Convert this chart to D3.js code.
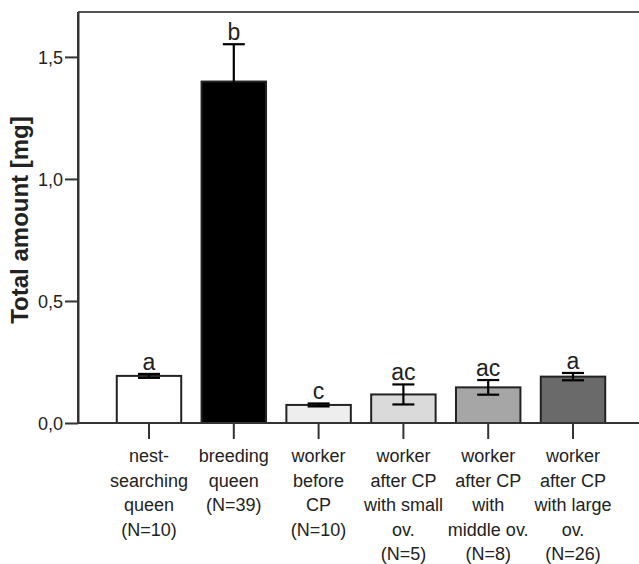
<!DOCTYPE html>
<html>
  <head>
    <meta charset="utf-8">
    <script src="https://cdn.jsdelivr.net/npm/d3@7"></script>
    <style type="text/css">
      body { margin: 0; background: #fff; }
      text { font-family: "Liberation Sans", Arial, sans-serif; fill: #222; }
      .axis path, .axis line { stroke: #333; stroke-width: 2; fill: none; }
    </style>
  </head>
  <body>
    <div class="plot_canvas"></div>
    <script>
      // data
      var groups = ["nest-searching queen", "breeding queen", "worker before CP",
                    "worker after CP small", "worker after CP middle", "worker after CP large"];
      var labelLines = [
        ["nest-", "searching", "queen", "(N=10)"],
        ["breeding", "queen", "(N=39)"],
        ["worker", "before", "CP", "(N=10)"],
        ["worker", "after CP", "with small", "ov.", "(N=5)"],
        ["worker", "after CP", "with", "middle ov.", "(N=8)"],
        ["worker", "after CP", "with large", "ov.", "(N=26)"]
      ];
      var means = [0.193, 1.399, 0.074, 0.117, 0.146, 0.190];
      var errs = [0.008, 0.153, 0.006, 0.041, 0.030, 0.015];
      var letters = ["a", "b", "c", "ac", "ac", "a"];
      var fills = ["#ffffff", "#000000", "#eeeeee", "#dadada", "#a6a6a6", "#6a6a6a"];
      var yTicks = [0, 0.5, 1.0, 1.5];

      var width = 639, height = 564;
      var margin = {top: 12, left: 78, bottom: 423};

      var svg = d3.select(".plot_canvas").append("svg")
        .attr("width", width).attr("height", height);

      var xScale = d3.scaleBand()
        .domain(groups)
        .range([106.6, 615.4])
        .paddingInner(0.24)
        .paddingOuter(0.12);

      var yScale = d3.scaleLinear()
        .domain([0, 1.684])
        .range([margin.bottom, margin.top]);

      // frame lines
      svg.append("line")
        .attr("x1", margin.left).attr("x2", width)
        .attr("y1", margin.top).attr("y2", margin.top)
        .attr("stroke", "#555").attr("stroke-width", 2);

      // y axis
      var yAxis = d3.axisLeft(yScale)
        .tickValues(yTicks)
        .tickSize(13)
        .tickPadding(2)
        .tickSizeOuter(0)
        .tickFormat(function(d) { return d3.format(".1f")(d).replace(".", ","); });

      var gy = svg.append("g")
        .attr("class", "axis")
        .attr("transform", "translate(" + margin.left + ",0)")
        .call(yAxis);
      gy.selectAll("text")
        .style("font-size", "18px")
        .attr("dy", "0.36em")
        .attr("fill", "#333");

      // bars
      svg.selectAll("rect.bar")
        .data(groups).enter()
        .append("rect")
        .attr("class", "bar")
        .attr("x", function(d) { return xScale(d); })
        .attr("width", xScale.bandwidth())
        .attr("y", function(d, i) { return yScale(means[i]); })
        .attr("height", function(d, i) { return yScale(0) - yScale(means[i]); })
        .attr("fill", function(d, i) { return fills[i]; })
        .attr("stroke", "#222")
        .attr("stroke-width", 2);

      // error bars
      var capW = 22;
      var eb = svg.selectAll("g.err")
        .data(groups).enter()
        .append("g").attr("class", "err")
        .attr("stroke", "#000").attr("stroke-width", 2.2);
      eb.append("line")
        .attr("x1", function(d) { return xScale(d) + xScale.bandwidth() / 2; })
        .attr("x2", function(d) { return xScale(d) + xScale.bandwidth() / 2; })
        .attr("y1", function(d, i) { return yScale(means[i] - errs[i]); })
        .attr("y2", function(d, i) { return yScale(means[i] + errs[i]); });
      eb.append("line")
        .attr("x1", function(d) { return xScale(d) + xScale.bandwidth() / 2 - capW / 2; })
        .attr("x2", function(d) { return xScale(d) + xScale.bandwidth() / 2 + capW / 2; })
        .attr("y1", function(d, i) { return yScale(means[i] + errs[i]); })
        .attr("y2", function(d, i) { return yScale(means[i] + errs[i]); });
      eb.append("line")
        .attr("x1", function(d) { return xScale(d) + xScale.bandwidth() / 2 - capW / 2; })
        .attr("x2", function(d) { return xScale(d) + xScale.bandwidth() / 2 + capW / 2; })
        .attr("y1", function(d, i) { return yScale(means[i] - errs[i]); })
        .attr("y2", function(d, i) { return yScale(means[i] - errs[i]); });

      // significance letters
      svg.selectAll("text.sig")
        .data(groups).enter()
        .append("text")
        .attr("class", "sig")
        .attr("x", function(d) { return xScale(d) + xScale.bandwidth() / 2; })
        .attr("y", function(d, i) { return yScale(means[i] + errs[i]) - 4; })
        .attr("text-anchor", "middle")
        .style("font-size", "23px")
        .text(function(d, i) { return letters[i]; });

      // x axis
      var xAxis = d3.axisBottom(xScale)
        .tickSize(16)
        .tickSizeOuter(0)
        .tickFormat("");
      var gx = svg.append("g")
        .attr("class", "axis")
        .attr("transform", "translate(0," + margin.bottom + ")")
        .call(xAxis);
      gx.select(".domain").remove();
      svg.append("line")
        .attr("x1", margin.left).attr("x2", width)
        .attr("y1", margin.bottom).attr("y2", margin.bottom)
        .attr("stroke", "#333").attr("stroke-width", 2);
      svg.append("line")
        .attr("x1", margin.left).attr("x2", margin.left)
        .attr("y1", margin.top).attr("y2", margin.bottom)
        .attr("stroke", "#333").attr("stroke-width", 2);

      // category labels
      var lab = svg.selectAll("text.xlab")
        .data(groups).enter()
        .append("text")
        .attr("class", "xlab")
        .attr("text-anchor", "middle")
        .style("font-size", "18px")
        .attr("fill", "#333");
      lab.each(function(d, i) {
        var t = d3.select(this);
        labelLines[i].forEach(function(s, k) {
          t.append("tspan")
            .attr("x", xScale(d) + xScale.bandwidth() / 2)
            .attr("y", 462 + k * 24.5)
            .text(s);
        });
      });

      // y title
      svg.append("text")
        .attr("transform", "translate(28,220) rotate(-90)")
        .attr("text-anchor", "middle")
        .style("font-size", "24px")
        .style("font-weight", "bold")
        .attr("fill", "#111")
        .text("Total amount [mg]");
    </script>
  </body>
</html>
